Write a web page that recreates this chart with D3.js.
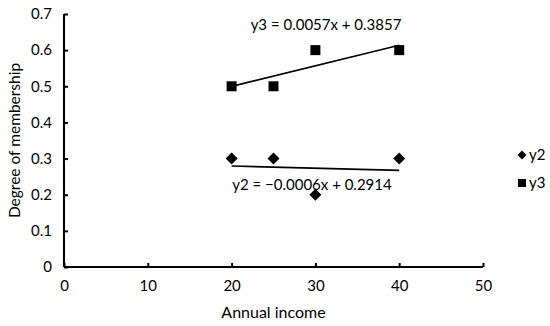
<!DOCTYPE html>
<html><head><meta charset="utf-8">
<script src="https://cdn.jsdelivr.net/npm/d3@7"></script>
<style>body{margin:0;background:#fff}svg{display:block}text{font-family:Lato,"Open Sans",sans-serif;fill:#000}</style>
</head><body><svg id="c" width="550" height="326"></svg>
<script>
const xValues = [20, 25, 30, 40];
const y2Values = [0.3, 0.3, 0.2, 0.3];
const y3Values = [0.5, 0.5, 0.6, 0.6];
const xTicks = [0, 10, 20, 30, 40, 50];
const yTicks = [0, 0.1, 0.2, 0.3, 0.4, 0.5, 0.6, 0.7];
const trend2 = {slope: -0.0006, intercept: 0.2914, label: "y2 = \u22120.0006x + 0.2914"};
const trend3 = {slope: 0.0057, intercept: 0.3857, label: "y3 = 0.0057x + 0.3857"};
const seriesNames = ["y2", "y3"];

const svg = d3.select("#c");
const x = d3.scaleLinear().domain([0, 50]).range([64, 483]);
const y = d3.scaleLinear().domain([0, 0.7]).range([267, 14]);
const fs = 15;

const gx = svg.append("g").attr("transform", `translate(0,${y(0)})`)
  .call(d3.axisBottom(x).tickValues(xTicks).tickSize(-4).tickPadding(13).tickFormat(d3.format("d")));
const gy = svg.append("g").attr("transform", `translate(${x(0)},0)`)
  .call(d3.axisLeft(y).tickValues(yTicks).tickSize(-4).tickPadding(12).tickFormat(d => d === 0 ? "0" : d3.format(".1f")(d)));
[gx, gy].forEach(g => {
  g.select(".domain").attr("stroke", "#000").attr("stroke-width", 2);
  g.selectAll(".tick line").attr("stroke", "#000").attr("stroke-width", 2);
  g.selectAll(".tick text").attr("font-size", fs).attr("font-family", "Lato");
});
gx.select(".domain").attr("d", `M${x(0)},0H${x(50)}`);
gy.select(".domain").attr("d", `M0,${y(0)}V${y(0.7)}`);

svg.append("text").attr("x", (x(0) + x(50)) / 2).attr("y", 318).attr("text-anchor", "middle").attr("font-size", 16).text("Annual income");
svg.append("text").attr("transform", `translate(20,${(y(0)+y(0.7))/2}) rotate(-90)`).attr("text-anchor", "middle").attr("font-size", 15.5).text("Degree of membership");

const line = d3.line().x(d => x(d[0])).y(d => y(d[1]));
[trend2, trend3].forEach(t => {
  const xs = d3.extent(xValues);
  svg.append("path").attr("d", line(xs.map(v => [v, t.slope * v + t.intercept])))
    .attr("stroke", "#000").attr("stroke-width", 1.6).attr("fill", "none");
});

const diamond = d3.symbol().type(d3.symbolSquare).size(72);
const square = d3.symbol().type(d3.symbolSquare).size(100);
svg.append("g").selectAll("path").data(xValues.map((v, i) => [v, y2Values[i]])).join("path")
  .attr("d", diamond).attr("transform", d => `translate(${x(d[0])},${y(d[1])}) rotate(45)`).attr("fill", "#000");
svg.append("g").selectAll("path").data(xValues.map((v, i) => [v, y3Values[i]])).join("path")
  .attr("d", square).attr("transform", d => `translate(${x(d[0])},${y(d[1])})`).attr("fill", "#000");

svg.append("text").attr("x", 326).attr("y", 30).attr("text-anchor", "middle").attr("font-size", fs).text(trend3.label);
svg.append("text").attr("x", 312).attr("y", 190).attr("text-anchor", "middle").attr("font-size", fs).text(trend2.label);

const leg = svg.append("g");
leg.append("path").attr("d", d3.symbol().type(d3.symbolSquare).size(40)).attr("transform", "translate(522,155) rotate(45)");
leg.append("text").attr("x", 529).attr("y", 160).attr("font-size", fs).text(seriesNames[0]);
leg.append("path").attr("d", d3.symbol().type(d3.symbolSquare).size(64)).attr("transform", "translate(522,183)");
leg.append("text").attr("x", 529).attr("y", 188).attr("font-size", fs).text(seriesNames[1]);
</script></body></html>
